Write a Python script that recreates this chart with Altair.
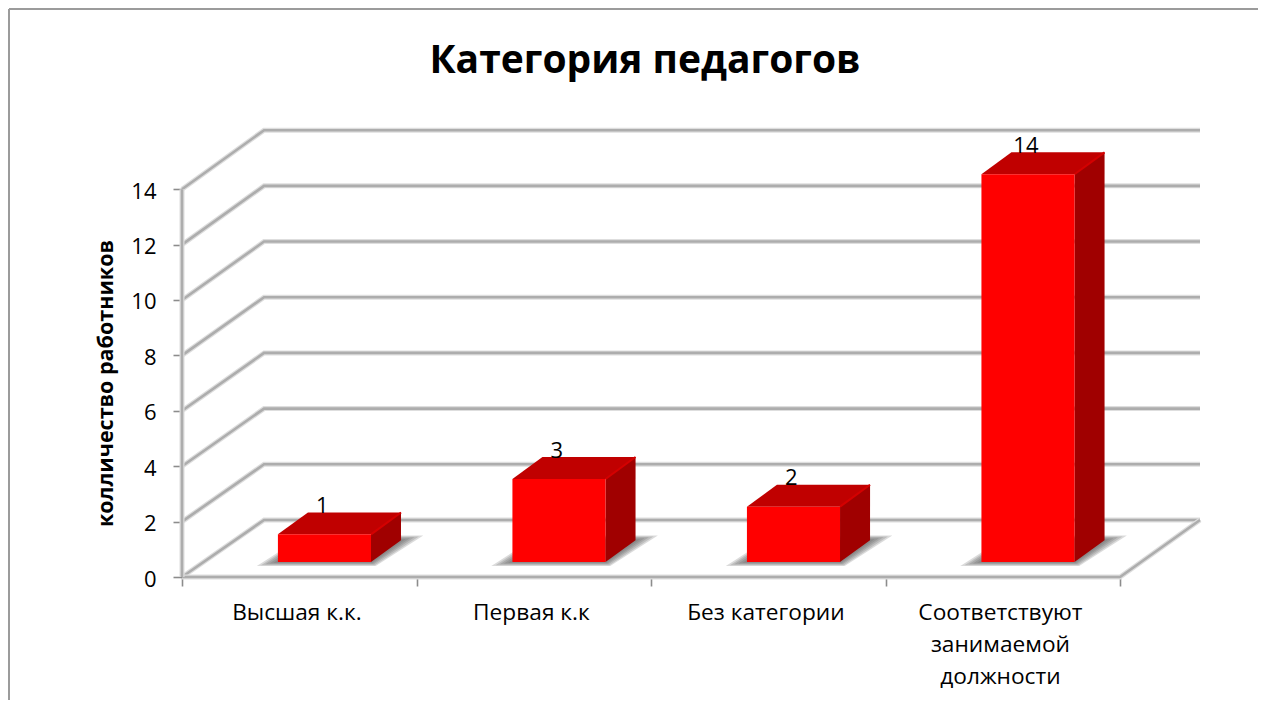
import altair as alt
import pandas as pd

categories = ["Высшая к.к.", "Первая к.к", "Без категории", "Соответствуют\nзанимаемой\nдолжности"]
values = [1, 3, 2, 14]
y_ticks = [0, 2, 4, 6, 8, 10, 12, 14]
x_ticks = [0, 1, 2, 3, 4]
text_font = "Open Sans"
y_title = "колличество работников"
chart_title = "Категория педагогов"

# scale geometry (1 x-unit = one category band, 1 y-unit = one worker)
X_MAX = 4.341
Y_MAX = 16.137
WALL_DX, WALL_DY, WALL_STRETCH = 0.35, 2.06, 1.005
BAR_L, BAR_R = 0.409, 0.806
BAR_BASE = 0.54
BAR_DX, BAR_DY = 0.128, 0.79

x_s = alt.Scale(domain=[0, X_MAX], nice=False, zero=False)
y_s = alt.Scale(domain=[0, Y_MAX], nice=False, zero=False)
x_axis = alt.Axis(values=x_ticks, labels=False, domain=False, grid=False, title=None,
                  tickColor="#8c8c8c", tickSize=9, tickWidth=1.6)
y_axis = alt.Axis(values=y_ticks, domain=False, grid=False, format="d",
                  tickColor="#8c8c8c", tickSize=9, tickWidth=1.6,
                  labelFont=text_font, labelFontSize=22, labelColor="#000000", labelPadding=17, labelOffset=2,
                  title=y_title, titleFont=text_font, titleFontSize=21.5,
                  titleFontWeight="bold", titleColor="#000000", titleX=-70, titleY=253,
                  titleBaseline="alphabetic", titleAlign="center", titleAngle=270)
X = lambda f: alt.X(f, type="quantitative", scale=x_s, axis=x_axis)
Y = lambda f: alt.Y(f, type="quantitative", scale=y_s, axis=y_axis)

# walls
wall_rows = []
for v in y_ticks:
    back = v * WALL_STRETCH + WALL_DY
    wall_rows += [dict(k=v, x=0, y=v), dict(k=v, x=WALL_DX, y=back), dict(k=v, x=X_MAX, y=back)]
wall = pd.DataFrame(wall_rows)
floor_edge = pd.DataFrame([dict(x=0, y=0), dict(x=4, y=0), dict(x=X_MAX, y=WALL_DY)])
left_edge = pd.DataFrame([dict(x=0, y=0), dict(x=0, y=14)])

def wall_layer(df, detail):
    enc = dict(x=X("x"), y=Y("y"), order="x:Q")
    if detail:
        enc["detail"] = "k:N"
    a = alt.Chart(df).mark_line(color="#dedede", strokeWidth=5).encode(**enc)
    b = alt.Chart(df).mark_line(color="#adadad", strokeWidth=2.6).encode(**enc)
    return a + b

# parallelograms
def para(k, fx0, fx1, yf, dx, dy):
    return [dict(k=k, x=fx0, y=yf, y2=yf), dict(k=k, x=fx0 + dx, y=yf, y2=yf + dy),
            dict(k=k, x=fx1, y=yf, y2=yf + dy), dict(k=k, x=fx1 + dx, y=yf + dy, y2=yf + dy)]

front, top, side, labels, shadows, edges = [], [], [], [], [], []
for i, (c, v) in enumerate(zip(categories, values)):
    l, r = i + BAR_L, i + BAR_R
    front.append(dict(x=l, x2=r, y=BAR_BASE, y2=BAR_BASE + v))
    top += para(i, l, r, BAR_BASE + v, BAR_DX, BAR_DY)
    side += [dict(k=i, x=r, y=BAR_BASE, y2=BAR_BASE + v),
             dict(k=i, x=r + BAR_DX, y=BAR_BASE + BAR_DY, y2=BAR_BASE + BAR_DY + v)]
    edges += [dict(k=i, x=r, y=BAR_BASE + v), dict(k=i, x=r + BAR_DX, y=BAR_BASE + BAR_DY + v)]
    labels.append(dict(x=(l + r) / 2 - 0.009, y=BAR_BASE + v + 0.77, t=str(v)))
    for j, grow in enumerate([1.0, 0.8, 0.6, 0.4, 0.2]):
        shadows += [dict(s=j, **row) for row in para(
            i * 10 + j, l - 0.09 * grow, r + 0.02 * grow, BAR_BASE - 0.14 * grow,
            BAR_DX + 0.075 * grow, BAR_DY + 0.31 * grow)]

def area(df, **mark):
    return (alt.Chart(pd.DataFrame(df)).mark_area(**mark)
            .encode(x=X("x"), y=Y("y"), y2=alt.Y2("y2"), detail="k:N"))

shadow = area(shadows, color="#5a5a5a", opacity=0.22)
front_l = alt.Chart(pd.DataFrame(front)).mark_rect(color="#ff0000").encode(x=X("x"), x2="x2:Q", y=Y("y"), y2="y2:Q")
top_l = area(top, color="#c00000")
side_l = area(side, color="#a00000")
edge_l = (alt.Chart(pd.DataFrame(edges)).mark_line(color="#d40000", strokeWidth=2)
          .encode(x=X("x"), y=Y("y"), detail="k:N"))
val_l = (alt.Chart(pd.DataFrame(labels)).mark_text(font=text_font, fontSize=22, color="#000000", baseline="alphabetic")
         .encode(x=X("x"), y=Y("y"), text="t:N"))
cat_df = pd.DataFrame(dict(x=[i + 0.49 for i in range(4)], y=[-1.55] * 4, t=categories))
cat_l = (alt.Chart(cat_df).mark_text(font=text_font, fontSize=22.7, color="#000000", baseline="alphabetic",
                                     lineBreak="\n", lineHeight=32)
         .encode(x=X("x"), y=Y("y"), text="t:N"))

frame_rows = pd.DataFrame([dict(a=1)])
frame_c = "#9b9b9b"
frame = (
    alt.Chart(frame_rows).mark_rule(color=frame_c, strokeWidth=2).encode(x=alt.value(-173), y=alt.value(-121), y2=alt.value(570))
    + alt.Chart(frame_rows).mark_rule(color=frame_c, strokeWidth=2).encode(x=alt.value(-173), x2=alt.value(1084), y=alt.value(-121))
)

chart = alt.layer(
    frame,
    wall_layer(wall, True),
    wall_layer(floor_edge, False),
    wall_layer(left_edge, False),
    shadow,
    side_l,
    top_l,
    edge_l,
    front_l,
    val_l,
    cat_l,
).properties(
    width=1018,
    height=447,
    title=alt.TitleParams(chart_title, font=text_font, fontSize=39, fontWeight="bold", color="#000000",
                          anchor="middle", dx=-46, offset=-104, baseline="alphabetic"),
    padding=alt.Padding(left=174, top=122, right=58, bottom=123),
    autosize=alt.AutoSizeParams(type="none"),
    background="#ffffff",
).configure_view(strokeWidth=0)

chart.save("out.html", embed_options={"renderer": "svg", "actions": False})
